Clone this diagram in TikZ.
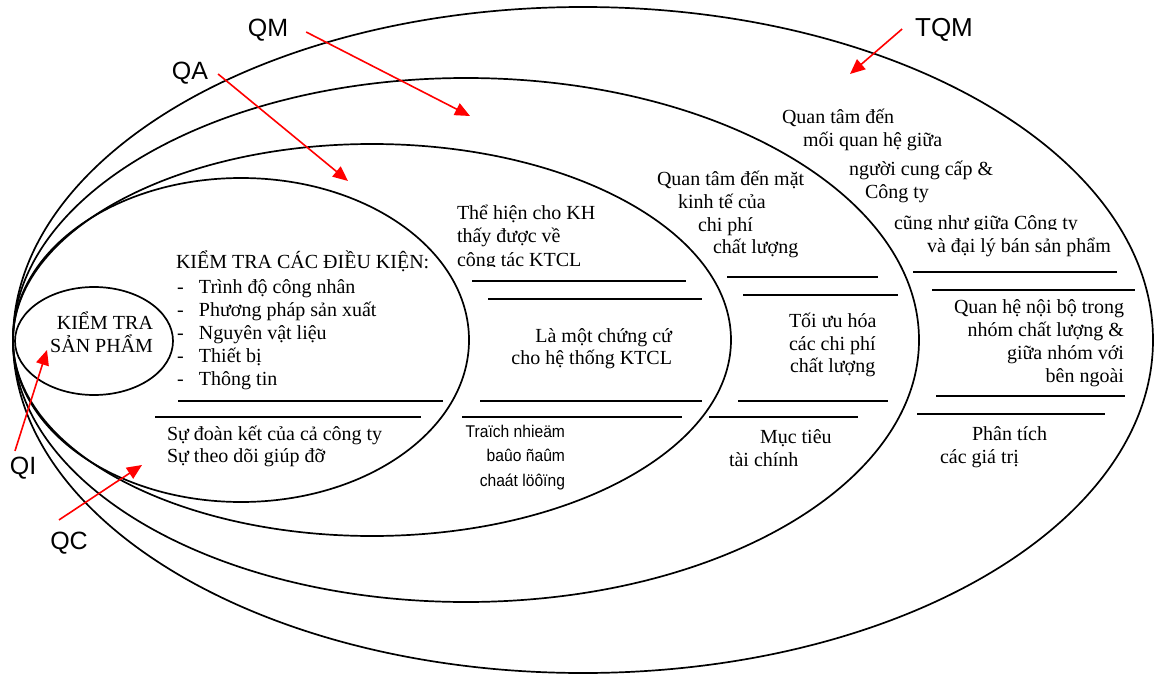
\documentclass[tikz,border=0pt]{standalone}
\usepackage{fontspec}
\usepackage{graphicx}
\setmainfont{Liberation Serif}
\newfontfamily\lsans{Liberation Sans}
\usetikzlibrary{arrows.meta}
\tikzset{
 txt/.style={font=\fontsize{20}{23}\selectfont, inner sep=0pt, outer sep=0pt},
 vni/.style={font=\lsans\fontsize{17}{20}\selectfont, inner sep=0pt, outer sep=0pt},
 lab/.style={font=\lsans\fontsize{25}{28}\selectfont, inner sep=0pt, outer sep=0pt},
 sepline/.style={line width=2pt},
 ell/.style={line width=1.7pt},
 redarr/.style={draw=red, line width=1.6pt, -{Triangle[length=15pt,width=13pt]}},
}
\newcommand\tline[4]{\node[txt,anchor=#1] (#2) at (#3) {#4};}
\newcommand\vnline[4]{\node[vni,anchor=#1] (#2) at (#3) {\scalebox{0.92}[1]{#4}};}
\begin{document}
\begin{tikzpicture}[x=1pt,y=-1pt]
\fill[white] (0,0) rectangle (1154,677);
\useasboundingbox (0,0) rectangle (1154,677);

% ellipses
\draw[ell] (94,341) ellipse [x radius=79pt, y radius=54pt];
\draw[ell] (241,340) ellipse [x radius=228pt, y radius=162pt];
\draw[ell] (372,340) ellipse [x radius=359pt, y radius=196pt];
\draw[ell] (466,340) ellipse [x radius=453pt, y radius=262pt];
\draw[ell] (583,340) ellipse [x radius=570pt, y radius=333pt];

% separator lines
\draw[sepline] (178,401) -- (443,401);
\draw[sepline] (155,417) -- (421,417);
\draw[sepline] (472,281) -- (686,281);
\draw[sepline] (488,299) -- (702,299);
\draw[sepline] (480,401) -- (702,401);
\draw[sepline] (462,417) -- (682,417);
\draw[sepline] (727,277) -- (878,277);
\draw[sepline] (743,295) -- (898,295);
\draw[sepline] (738,401) -- (888,401);
\draw[sepline] (709,417) -- (858,417);
\draw[sepline] (913,272) -- (1117,272);
\draw[sepline] (932,290) -- (1135,290);
\draw[sepline] (936,396) -- (1125,396);
\draw[sepline] (917,414) -- (1105,414);

% QI text
\tline{base east}{qi1}{153,329}{KIỂM TRA}
\tline{base east}{qi2}{153,352}{SẢN PHẨM}

% QC text
\tline{base west}{qc0}{176,268}{KIỂM TRA CÁC ĐIỀU KIỆN:}
\tline{base west}{qc1}{177,293}{\makebox[22pt][l]{-}Trình độ công nhân}
\tline{base west}{qc2}{177,316}{\makebox[22pt][l]{-}Phương pháp sản xuất}
\tline{base west}{qc3}{177,339}{\makebox[22pt][l]{-}Nguyên vật liệu}
\tline{base west}{qc4}{177,362}{\makebox[22pt][l]{-}Thiết bị}
\tline{base west}{qc5}{177,385}{\makebox[22pt][l]{-}Thông tin}
\tline{base west}{qc6}{167,440}{Sự đoàn kết của cả công ty}
\tline{base west}{qc7}{167,462}{Sự theo dõi giúp đỡ}

% QA text
\tline{base west}{qa1}{457,219}{Thể hiện cho KH}
\tline{base west}{qa2}{457,242}{thấy được về}
\begin{scope}
\clip (450,248) rectangle (700,266);
\tline{base west}{qa3}{457,266}{công tác KTCL}
\end{scope}
\tline{base east}{qa4}{672,342}{Là một chứng cứ}
\tline{base east}{qa5}{672,364}{cho hệ thống KTCL}
\vnline{base east}{qa6}{565,437}{Traïch nhieäm}
\vnline{base east}{qa7}{565,461}{baûo ñaûm}
\vnline{base east}{qa8}{565,486}{chaát löôïng}

% QM text
\tline{base west}{qm1}{657,185}{Quan tâm đến mặt}
\tline{base west}{qm2}{678,208}{kinh tế của}
\tline{base west}{qm3}{698,231}{chi phí}
\tline{base west}{qm4}{713,253}{chất lượng}
\tline{base west}{qm5}{789,327}{Tối ưu hóa}
\tline{base west}{qm6}{789,350}{các chi phí}
\tline{base west}{qm7}{790,372}{chất lượng}
\tline{base west}{qm8}{760,443}{Mục tiêu}
\tline{base west}{qm9}{729,466}{tài chính}

% TQM text
\tline{base west}{t1}{782,123}{Quan tâm đến}
\tline{base west}{t2}{803,146}{mối quan hệ giữa}
\tline{base west}{t3}{849,175}{người cung cấp \&}
\tline{base west}{t4}{865,198}{Công ty}
\begin{scope}
\clip (880,205) rectangle (1100,229);
\tline{base west}{t5}{894,229}{cũng như giữa Công ty}
\end{scope}
\tline{base west}{t6}{927,252}{và đại lý bán sản phẩm}
\tline{base east}{t7}{1124,313}{Quan hệ nội bộ trong}
\tline{base east}{t8}{1124,336}{nhóm chất lượng \&}
\tline{base east}{t9}{1124,359}{giữa nhóm với}
\tline{base east}{t10}{1124,382}{bên ngoài}
\tline{base west}{t11}{972,440}{Phân tích}
\tline{base west}{t12}{940,463}{các giá trị}

% labels
\node[lab] (QM) at (268,30) {QM};
\node[lab] (QA) at (190,73) {QA};
\node[lab,font=\lsans\fontsize{26}{29}\selectfont] (TQM) at (944,30) {TQM};
\node[lab] (QI) at (23,468) {QI};
\node[lab] (QC) at (69,543) {QC};

% arrow tips
\coordinate (qmtip) at (470,116);
\coordinate (qatip) at (348,181);
\coordinate (tqmtip) at (850,74);
\coordinate (qitip) at (47,350);
\coordinate (qctip) at (142,465);

\draw[redarr] ([shift={(18,2)}]QM.east) -- (qmtip);
\draw[redarr] ([shift={(10,1)}]QA.east) -- (qatip);
\draw[redarr] ([shift={(-13,-1)}]TQM.west) -- (tqmtip);
\draw[redarr] ([shift={(-8,-6)}]QI.north) -- (qitip);
\draw[redarr] ([shift={(-10,-12)}]QC.north) -- (qctip);
\end{tikzpicture}
\end{document}
